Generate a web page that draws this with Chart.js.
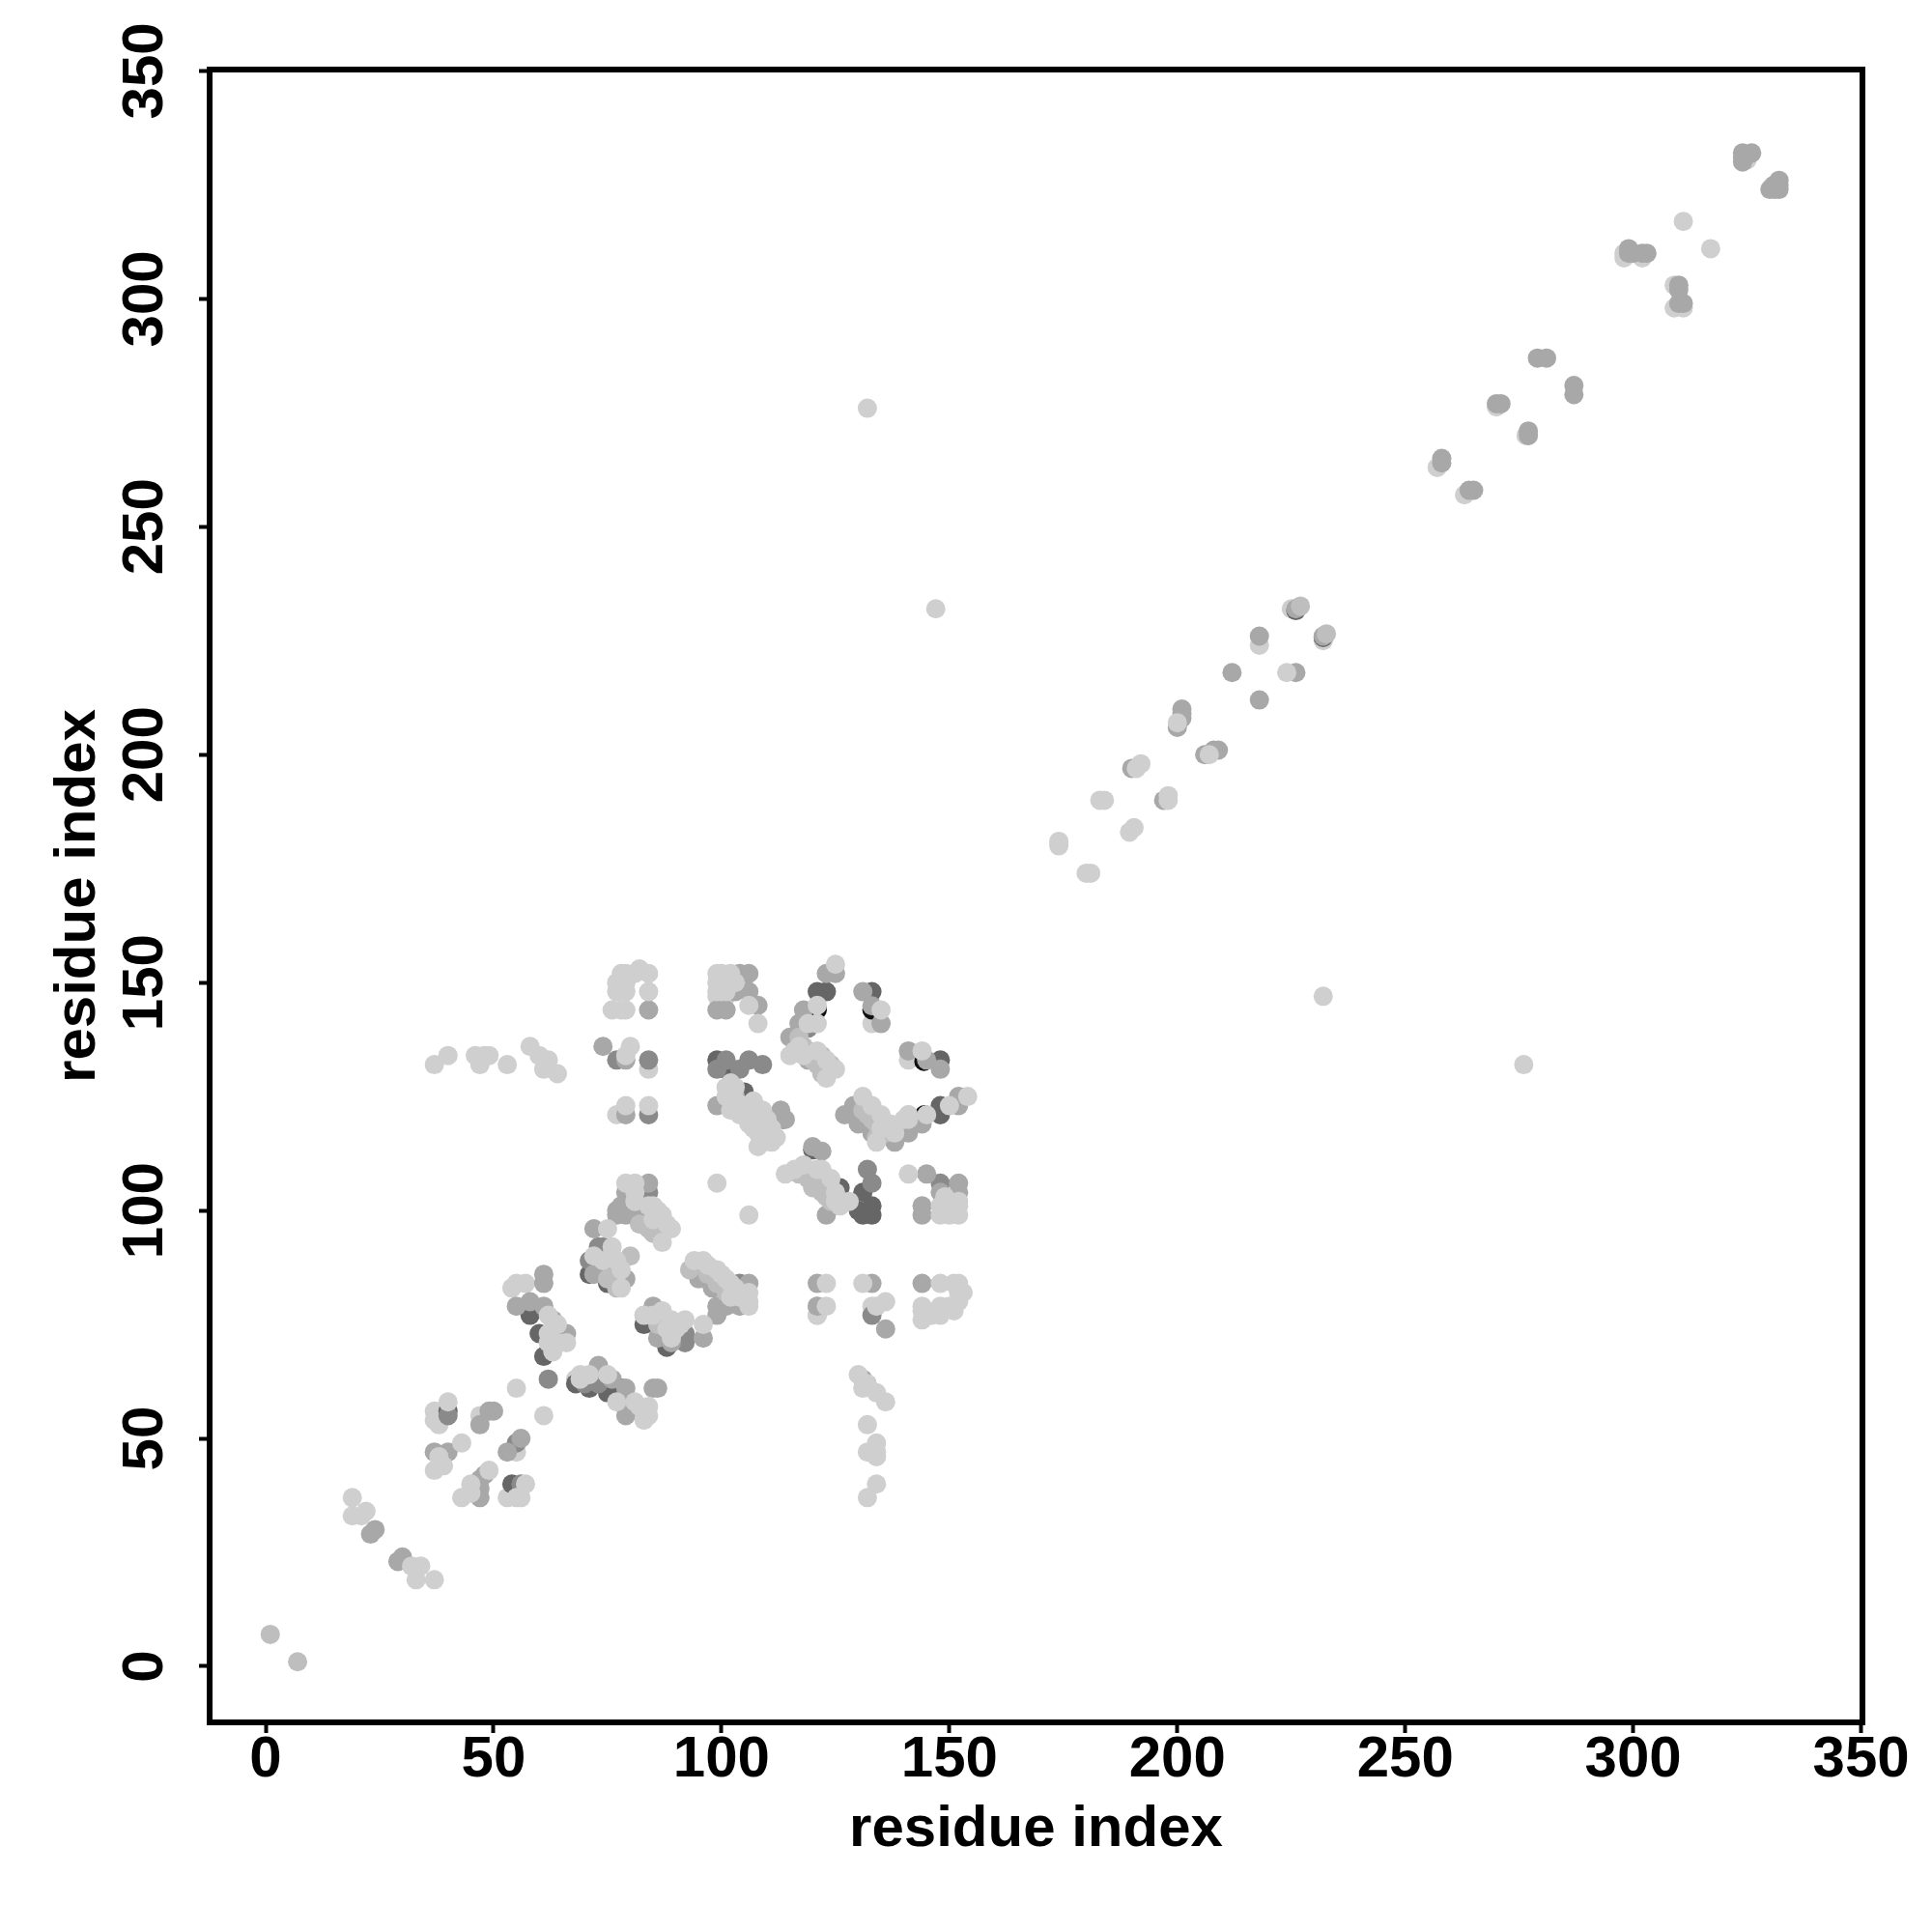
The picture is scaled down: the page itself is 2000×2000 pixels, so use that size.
<!DOCTYPE html>
<html>
<head>
<meta charset="utf-8">
<title>residue contacts</title>
<script src="https://cdn.jsdelivr.net/npm/chart.js@4"></script>
<style>
  html, body { margin: 0; background: #ffffff; }
  canvas { display: block; }
</style>
</head>
<body>
<canvas id="contactChart" width="2000" height="2000"></canvas>
<script>
const tickValues = [0, 50, 100, 150, 200, 250, 300, 350];
const axisLabel = 'residue index';

// contacts sitting under the darker dots
const paleUnder = [
  [84,131],[77,121],[121,77],[298,310],[298,309],[302,309],[309,303],[309,298],[311,298],[325,330.5],[330.5,324.7],
  [115,134],[133,141],[141,133],[141,121],[141,119],[133,79],[121,79],[121,77],[99,147],[101,147],
  [47,55],[37,56],[37,54],[38,53],[55,47],[55,38],[53,37],[56,37],[218,224],[270,276.3],[276.5,270],
  [257,263],[263,257],[83,77],[85,75],[68,63],[69,64],[54,83],[55,84],[57,84],[225,232],[232,225]
];
const black = [
  [121,144],[133,144],[144.4,132.7],[144.5,121]
];
const dark = [
  [99,133],[101,131],[105,126],[121,148],[123,148],[133,148],[148,133],[148,123],[148,121],[126,105],
  [131,104],[130,100],[133,101],[131,99],[133,99],[40,56],[54,40],[83,75],[68,62],[71,61],[75,60],[78,61],
  [113.5,120],[120,113.3],[226,231.6],[232,225.7],[71,86],[75,84],[88,70],[61,68],[60,73],[58,77]
];
const grey = [
  [99,131],[101,133],[104,131],[106,133],[109,132],[119,140],[133,106],[132,109],[140,119],[148,106],[77,133],[84,133],
  [84,121],[84,104],[73,92],[74,92],[71,89],[40,55],[55,49],[56,40],[92,73],[92,72],[92,71],[104,84],[133,77],[62,63],
  [64,73],[70,62],[73,62]
];
const mid = [
  [104,152],[106,152],[103,148],[106,148],[99,144],[101,144],[108,145],[99,123],[113,122],[114,120],[120,114],[122,113],
  [123,152],[125,152],[118,144],[117,141],[115,138],[119,133],[122,131],[131,148],[135,141],[141,135],[145,133],[148,131],
  [133,144.9],[152,125],[152,123],[144,119],[141,117],[129,123],[127,121],[130,119],[133,117],[138,115],[123,99],[145,108],[148,104],
  [152,106],[152,104],[144,101],[144,99],[79,121],[79,133],[74,136],[84,144],[84,106],[79,104],[78,101],[77,100],
  [121,84],[133,84],[144,84],[106,84],[121,79],[136,74],[101,79],[99,79],[99,77],[96,72],[104,79],[95,85],[98,83],
  [72,96],[79,101],[77,99],[79,99],[83,98],[81,100],[72,86],[74,86],[76,88],[79,85],[85,79],[86,72],[89,71],[61,86],[61,84],[55,79],[58,80],[61,79],
  [63,76],[66,73],[73,66],[76,63],[79,61],[85,61],[86,61],[80,58],[79,55],[131,63],[47,53],[49,56],[50,56],[56,50],[53,47],
  [37,47],[40,47],[47,41],[48,42],[47,37],[47,39],[24,30],[23,29],[30,24],[29,23],[324,330],[324,331],[324,332],[326,332],[325,331.5],
  [332,326],[332,325],[332,324],[330,324],[331,324],[331,325],[299,311],[299,310],[300,310],[303,310],[302,310],[310,303],[310,302],[311,299],[310,299],
  [279,287],[281,287],[287,281],[287,279],[270,277],[271,277],[277,270],[277,271],[258,265],[258,264],[265,258],[264,258],[218,226],[212,218],[218,212],[226,218],
  [201,210],[201,209],[201,208],[209,201],[208,201],[190,197],[197,190],[200,206],[206,200],[226,232],[232,226]
];
const soft = [
  [1,7],[7,1],[227,232.6],[232.7,226.5],
  [86,75],[103,125],[105,122],[107,120],[109,117],[117,138],[118,136],[119,135],[120,133],[121,132],[122,130],
  [131,122],[132,121],[133,120],[134,119],[135,118],[136,117],[134,116],[117,108],[119,107],[120,105],[122,104],[123,103],[124,102],[121,107],
  [85,95],[82,97],[84,96],[80,90],[77,86],[77,83],[93,87],[97,86],[99,84],[101,82],[75,85],[122,134],[124,132]
];
const pale = [
  [37,132],[40,134],[46,134],[47,132],[48,134],[49,134],[53,132],[58,136],[60,134],[61,131],[62,133],[64,130],
  [82,153],[84,152],[78,152],[79,152],[81,152],[77,150],[79,150],[77,148],[79,148],[84,148],[76,144],[78,144],[79,144],
  [79,134],[80,136],[79,123],[84,123],[79,106],[81,106],
  [99,152],[100,152],[102,152],[99,150],[101,150],[103,150],[99,148],[101,148],[106,145],[108,141],
  [102,128],[101,127],[103,127],[101,125],[103,124],[102,122],[104,121],[105,123],[107,124],[106,121],[108,120],[109,122],[106,119],[108,117],
  [107,118],[108,114],[110,117],[111,118],[110,120],[111,115],[109,115],[110,116],[112,116],
  [125,154],[121,145],[117,136],[119,141],[121,141],[121,135],[123,133],[125,131],[123,129],[118,134],[116,135],
  [135,144],[144,135],[145,121],[150,123],[154,125],
  [131,125],[133,123],[135,121],[137,119],[138,117],[134,115],[135,118],[140,120],[141,121],[141,120],
  [114,108],[116,109],[118,110],[121,109],[122,109],[124,107],[125,104],[125,102],[128,102],[126,101],
  [141,108],[99,106],[106,99],
  [148,99],[150,99],[152,99],[148,101],[150,101],[152,101],[149,103],[152,102],
  [123,84],[131,84],[148,84],[151,84],[152,84],[153,82],[152,82],[152,80],[151,78],[123,79],[134,79],[136,80],
  [144,79],[144,78],[144,76],[146,77],[148,79],[148,77],[150,79],
  [94,89],[96,89],[97,88],[99,87],[100,86],[101,85],[102,84],[103,83],[102,81],[106,82],[106,80],[106,79],[104,81],[96,75],
  [75,96],[81,102],[81,104],[84,101],[85,101],[86,100],[87,99],[88,97],[89,96],[87,93],[85,98],
  [76,92],[72,90],[74,89],[76,90],[78,87],[77,89],[78,83],[83,77],[87,78],[85,77],[89,76],[92,76],[90,74],[89,72],[88,74],[91,75],
  [62,77],[64,75],[62,71],[63,69],[66,71],[64,71],[62,73],
  [69,63],[71,64],[75,64],[82,57],[84,57],[83,54],[84,55],[81,58],[77,58],
  [55,61],[61,55],[130,64],[132,62],[131,61],[134,60],[136,58],[132,53],[134,49],[132,47],[134,47],[134,46],[134,40],[132,37],
  [40,58],[43,49],[38,46],[37,43],[39,44],[49,43],[45,40],[43,37],[45,38],[57,40],[55,37],[19,37],[19,33],[22,34],[21,33],
  [34,22],[32,22],[33,19],[37,19],
  [311,317],[317,311],[132,276],[276,132],[147,232],[232,147],[224,218],
  [174,181],[174,180],[180,174],[181,174],[183,190],[184,190],[189.5,183],[190.5,184],[191,197],[192,198],[198,191],[198,190],[200,207],[207,200]
];

// Chart.js paints dataset 0 last, so this list runs from top layer to bottom layer
const layers = [
  { points: pale, color: '#cfcfcf' },
  { points: soft, color: '#bebebe' },
  { points: mid, color: '#a8a8a8' },
  { points: grey, color: '#8a8a8a' },
  { points: dark, color: '#666666' },
  { points: black, color: '#111111' },
  { points: paleUnder, color: '#cfcfcf' }
];

const frame = {
  id: 'frame',
  afterDatasetsDraw(chart) {
    const { ctx, chartArea: a } = chart;
    ctx.save();
    ctx.strokeStyle = '#000000';
    ctx.lineWidth = 6;
    ctx.strokeRect(a.left, a.top, a.right - a.left, a.bottom - a.top);
    ctx.restore();
  }
};

const axisFont = { family: "'Liberation Sans', sans-serif", size: 60, weight: 'bold' };

function axis(size, titlePadding, ticks) {
  return {
    type: 'linear',
    min: -12.3,
    max: 350.3,
    afterBuildTicks: scale => { scale.ticks = tickValues.map(v => ({ value: v })); },
    afterFit: scale => { scale[size] = 217; },
    border: { display: false },
    grid: { drawOnChartArea: false, drawTicks: true, tickLength: 11, tickWidth: 4, tickColor: '#000000' },
    title: { display: true, text: axisLabel, color: '#000000', font: axisFont, padding: titlePadding },
    ticks: Object.assign({ color: '#000000', font: axisFont, autoSkip: false }, ticks)
  };
}

new Chart(document.getElementById('contactChart'), {
  type: 'scatter',
  data: {
    datasets: layers.map(l => ({
      data: l.points.map(p => ({ x: p[0], y: p[1] })),
      backgroundColor: l.color,
      borderWidth: 0,
      pointRadius: 10,
      pointHoverRadius: 10
    }))
  },
  options: {
    responsive: false,
    animation: false,
    layout: { padding: { top: 72, right: 72, left: 0, bottom: 0 } },
    plugins: { legend: { display: false }, tooltip: { enabled: false } },
    scales: {
      x: axis('height', { top: 0, bottom: 70 }, { padding: -8, maxRotation: 0, minRotation: 0 }),
      y: axis('width', { top: 45, bottom: 0 }, { padding: 4, minRotation: 90, maxRotation: 90, crossAlign: 'center' })
    }
  },
  plugins: [frame]
});
</script>
</body>
</html>
